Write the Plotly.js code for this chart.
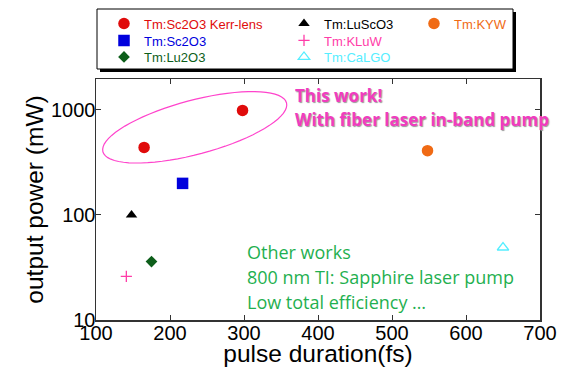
<!DOCTYPE html>
<html><head><meta charset="utf-8">
<script src="https://cdn.plot.ly/plotly-3.0.1.min.js"></script>
<style>body{margin:0;padding:0;background:#fff}#c{width:563px;height:367px}</style>
</head><body><div id="c"></div>
<script>
// Data (pulse duration fs, output power mW)
const seriesNames = ["Tm:Sc2O3 Kerr-lens","Tm:Sc2O3","Tm:Lu2O3","Tm:LuScO3","Tm:KLuW","Tm:CaLGO","Tm:KYW"];
const kerrX = [165, 298];   const kerrY = [440, 990];
const sc2o3X = [217];       const sc2o3Y = [200];
const lu2o3X = [175];       const lu2o3Y = [36];
const luscoX = [148];       const luscoY = [100];
const kluwX = [141];        const kluwY = [26];
const calgoX = [650];       const calgoY = [49];
const kywX = [548];         const kywY = [410];
const xTicks = [100,200,300,400,500,600,700];
const yTicks = [10,100,1000];
const noteThis = ["This work!","With fiber laser in-band pump"];
const noteOther = ["Other works","800 nm TI: Sapphire laser pump","Low total efficiency …"];

function tr(x,y,name,color,symbol,size,legend,lineW){
  return {x:x,y:y,type:'scatter',mode:'markers',
    name:'<span style="color:'+color+'">'+name+'</span>',
    legend:legend,
    marker:{color:color,symbol:symbol,size:size,line:{width:lineW||0,color:color}}};
}
const data = [
  tr(kerrX,kerrY,seriesNames[0],'#e00b0b','circle',11.5,'legend'),
  tr(sc2o3X,sc2o3Y,seriesNames[1],'#0000dd','square',11.5,'legend2'),
  tr(lu2o3X,lu2o3Y,seriesNames[2],'#0d5e1a','diamond',9,'legend3'),
  tr(luscoX,luscoY,seriesNames[3],'#000000','triangle-up',10,'legend4'),
  tr(kluwX,kluwY,seriesNames[4],'#ff3ca8','cross-thin-open',8,'legend5',1.3),
  tr(calgoX,calgoY,seriesNames[5],'#55eeff','triangle-up-open',10,'legend6',1.3),
  tr(kywX,kywY,seriesNames[6],'#f06a14','circle',11.5,'legend7')
];

// plot area in px: x 96..540, y 79..320
const L=96,R=540,T=79,B=320,W=R-L,H=B-T;
function px(x){return (x-L)/W;}
function py(y){return (B-y)/H;}

// decorative ellipse (paper coords)
const cx=194.7, cy=127.3, a=95, b=27, th=-14.9*Math.PI/180;
let path='';
for(let i=0;i<=72;i++){
  const t=i/72*2*Math.PI;
  const ex=a*Math.cos(t), ey=b*Math.sin(t);
  const X=cx+ex*Math.cos(th)-ey*Math.sin(th);
  const Y=cy+ex*Math.sin(th)+ey*Math.cos(th);
  path+=(i===0?'M':'L')+px(X).toFixed(4)+','+py(Y).toFixed(4);
}
path+='Z';

const legFont={family:'Liberation Sans, Arial, sans-serif',size:13,color:'#000'};
function leg(xp,yc){
  return {bgcolor:'rgba(0,0,0,0)',borderwidth:0,font:legFont,xanchor:'left',yanchor:'top',
    itemsizing:'trace',x:px(xp-20),y:py(yc-14.5)};
}
const colX=[124,304,434], rowY=[23,40,56.5];

const tickFont={family:'Liberation Sans, Arial, sans-serif',size:20,color:'#000'};
const titleFont={family:'Liberation Sans, Arial, sans-serif',size:24.5,color:'#000'};

const annotations=[];
noteThis.forEach((t,i)=>annotations.push({xref:'paper',yref:'paper',x:px(293),y:py([95,120][i]),xanchor:'left',yanchor:'middle',showarrow:false,
  text:t,font:{family:'Open Sans, sans-serif',size:17,color:'#f03cc0',weight:700,shadow:'1px 1px 1px #999'}}));
noteOther.forEach((t,i)=>annotations.push({xref:'paper',yref:'paper',x:px(245),y:py([251.7,277,301.7][i]),xanchor:'left',yanchor:'middle',showarrow:false,
  text:t,font:{family:'Open Sans, sans-serif',size:18,color:'#1fb050'}}));

const layout = {
  width:563,height:367,
  margin:{l:L,r:563-R,t:T,b:367-B,pad:0,autoexpand:false},
  paper_bgcolor:'#fff',plot_bgcolor:'#fff',
  showlegend:true,
  xaxis:{range:[100,700],tickvals:xTicks,ticktext:xTicks.map(String),ticks:'inside',ticklen:5,tickwidth:1,tickcolor:'#333',
    showline:true,linecolor:'#333',linewidth:1.5,mirror:'ticks',showgrid:false,zeroline:false,automargin:false,
    tickfont:tickFont,ticklabelstandoff:-6,
    title:{text:'pulse duration(fs)',font:titleFont,standoff:2}},
  yaxis:{type:'log',range:[1,3.295],tickvals:yTicks,ticktext:yTicks.map(String),ticks:'inside',ticklen:5,tickwidth:1,tickcolor:'#333',
    showline:true,linecolor:'#333',linewidth:1.5,mirror:'ticks',showgrid:false,zeroline:false,automargin:false,
    tickfont:tickFont,ticklabelstandoff:-5,
    title:{text:'output power (mW)',font:titleFont,standoff:0}},
  legend:leg(colX[0],rowY[0]),
  legend2:leg(colX[0],rowY[1]),
  legend3:leg(colX[0],rowY[2]),
  legend4:leg(colX[1],rowY[0]),
  legend5:leg(colX[1],rowY[1]),
  legend6:leg(colX[1],rowY[2]),
  legend7:leg(colX[2],rowY[0]),
  shapes:[
    {type:'rect',xref:'paper',yref:'paper',x0:px(100),x1:px(516),y0:py(72),y1:py(12),line:{width:0},fillcolor:'#000',layer:'below'},
    {type:'rect',xref:'paper',yref:'paper',x0:px(97),x1:px(513),y0:py(69),y1:py(9),line:{width:1,color:'#000'},fillcolor:'#fff',layer:'below'},
    {type:'path',xref:'paper',yref:'paper',path:path,line:{color:'#ff44cc',width:1.2}}
  ],
  annotations:annotations
};
Plotly.newPlot('c',data,layout,{staticPlot:true,displayModeBar:false});
</script></body></html>
